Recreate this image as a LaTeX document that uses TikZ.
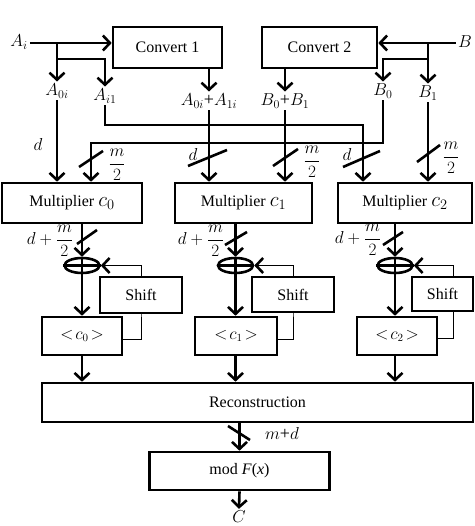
\documentclass[tikz,border=0pt]{standalone}
\usepackage{fontspec}
\setmainfont{Liberation Serif}
\usetikzlibrary{arrows.meta,shapes.geometric,backgrounds}

\begin{document}
\begin{tikzpicture}[x=1pt,y=-1pt,line width=2.6pt]
\tikzstyle{every node}=[font=\fontsize{16}{19}\selectfont]
\tikzstyle{box}=[draw,fill=white,rectangle,inner sep=0pt]
\tikzstyle{lbl}=[inner sep=1pt,font=\fontsize{18}{20}\selectfont]
\tikzstyle{adder}=[draw,ellipse,inner sep=0pt,minimum width=35pt,minimum height=15pt]
\tikzset{>={Straight Barb[length=7pt,width=15pt,line width=2.6pt]}}
\newcommand{\half}{\displaystyle\frac{m}{2}}
\newcommand{\cfac}[1]{{\fontsize{20}{20}\selectfont$c_{#1}$}}
\useasboundingbox (0,0) rectangle (474,526);
\node [box,minimum width=109pt,minimum height=41pt] (conv1) at (167.5,47.5) {Convert 1};
\node [box,minimum width=115pt,minimum height=41pt] (conv2) at (319.5,47.5) {Convert 2};
\node [box,minimum width=140pt,minimum height=40pt] (mult0) at (72,203) {Multiplier \cfac{0}};
\node [box,minimum width=137pt,minimum height=40pt] (mult1) at (243.5,203) {Multiplier \cfac{1}};
\node [box,minimum width=134pt,minimum height=40pt] (mult2) at (405,203) {Multiplier \cfac{2}};
\node [adder] (add0) at (82,265.5) {};
\node [adder] (add1) at (235.5,265.5) {};
\node [adder] (add2) at (395,265.5) {};
\node [box,minimum width=82pt,minimum height=36pt] (shift0) at (141,295) {Shift};
\node [box,minimum width=82pt,minimum height=35pt] (shift1) at (293,294.5) {Shift};
\node [box,minimum width=61pt,minimum height=34pt] (shift2) at (442.5,294) {Shift};
\node [box,minimum width=80pt,minimum height=38pt] (c0) at (82,336) {$<\!c_0\!>$};
\node [box,minimum width=82pt,minimum height=38pt] (c1) at (236,336) {$<\!c_1\!>$};
\node [box,minimum width=80pt,minimum height=38pt] (c2) at (397,336) {$<\!c_2\!>$};
\node [box,minimum width=431pt,minimum height=39pt] (recon) at (257.5,402.5) {Reconstruction};
\node [box,minimum width=180pt,minimum height=38pt] (mod) at (239.5,471) {mod \textit{F}(\textit{x})};
\node [lbl] (ai) at (19,42) {$A_i$};
\node [lbl] (b) at (465,42) {$B$};
\node [lbl] (a0) at (57,91) {$A_{0i}$};
\node [lbl] (a1) at (105,96) {$A_{i1}$};
\node [lbl] (a01) at (209,101) {$A_{0i}$+$A_{1i}$};
\node [lbl] (b01) at (285,101) {$B_0$+$B_1$};
\node [lbl] (b0) at (383,91) {$B_0$};
\node [lbl] (b1) at (428,93) {$B_1$};
\node [lbl] (out) at (239,517) {$C$};
\coordinate (k0) at (91,143);
\coordinate (k2) at (363,125);
\coordinate (fb2) at (453,294);
% inputs
\draw [->] (ai.east |- 0,43) -- (conv1.west |- 0,43);
\draw [->] (a0 |- 0,43) -- (a0.north);
\draw [->] (a0 |- 0,59) -| (a1.north);
\draw [->] (b.west |- 0,43) -- (conv2.east |- 0,43);
\draw [->] (b1 |- 0,43) -- (b1.north);
\draw [->] (b1 |- 0,59) -| (b0.north);
\draw [->] (conv1.south -| a01) -- (a01.north);
\draw [->] (conv2.south -| b01) -- (b01.north);
\draw [->] (a0.south) -- (a0 |- mult0.north);
\draw [->] (b0.south) |- (k0) -- (k0 |- mult0.north);
\draw [->] (a1.south) |- (k2) -- (k2 |- mult2.north);
\draw [->] (a01.south) -- (a01 |- mult1.north);
\draw [->] (b01.south) -- (b01 |- mult1.north);
\draw [->] (b1.south) -- (b1 |- mult2.north);
\draw (79,167) -- (103,151);
\draw (188,166) -- (227,150);
\draw (273,166) -- (298,149);
\draw (343,167) -- (380,151);
\draw (417,162) -- (440,145);
\node [lbl] (ld0) at (38,145) {$d$};
\node [lbl] (lm0) at (117,165) {$\half$};
\node [lbl] (ld1) at (193,155) {$d$};
\node [lbl] (lm1) at (312,162) {$\half$};
\node [lbl] (ld2) at (347,155) {$d$};
\node [lbl] (lm2) at (451,158) {$\half$};
% multiplier outputs
\draw [->] (add0 |- mult0.south) -- (add0.north);
\draw (add0.north) -- (add0.south) (add0.west) -- (add0.east);
\draw [->] (add0.south) -- (add0 |- c0.north);
\draw [->] (add1 |- mult1.south) -- (add1.north);
\draw (add1.north) -- (add1.south) (add1.west) -- (add1.east);
\draw [->] (add1.south) -- (add1 |- c1.north);
\draw [->] (add2 |- mult2.south) -- (add2.north);
\draw (add2.north) -- (add2.south) (add2.west) -- (add2.east);
\draw [->] (add2.south) -- (add2 |- c2.north);
\draw (77,244) -- (97,230);
\draw (225,245) -- (247,232);
\draw (383,245) -- (403,232);
\node [lbl] (ls0) at (50,241) {$d+\half$};
\node [lbl] (ls1) at (201,241) {$d+\half$};
\node [lbl] (ls2) at (358,240) {$d+\half$};
\begin{scope}[on background layer]
\draw [->] ([yshift=-3pt]c0.east) -| (shift0.center) |- (add0.east);
\draw [->] ([yshift=-3pt]c1.east) -| (shift1.center) |- (add1.east);
\draw [->] ([yshift=-2pt]c2.east) -| (fb2) |- (add2.east);
\end{scope}
% reconstruction
\draw [->] (add0 |- c0.south) -- (add0 |- recon.north);
\draw [->] (add1 |- c1.south) -- (add1 |- recon.north);
\draw [->] (add2 |- c2.south) -- (add2 |- recon.north);
\draw [->] (mod |- recon.south) -- (mod.north);
\draw (228,426) -- (250,440);
\node [lbl] (lmd) at (282,433) {$m$+$d$};
\draw [->] (mod.south) -- (out.north);
\end{tikzpicture}
\end{document}
